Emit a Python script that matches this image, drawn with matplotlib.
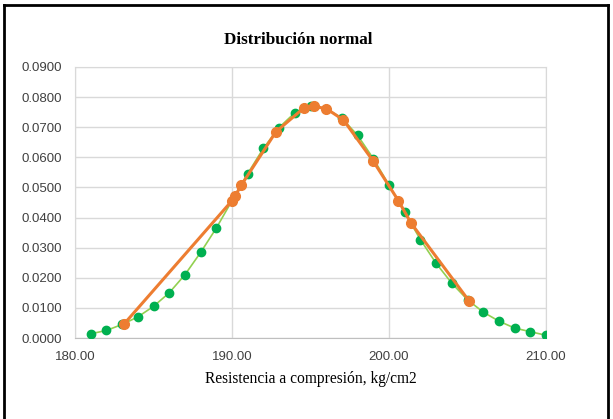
import matplotlib
matplotlib.use("Agg")
import matplotlib.pyplot as plt
from matplotlib.lines import Line2D
from matplotlib.ticker import FormatStrFormatter, MultipleLocator

# Theoretical normal curve (green)
curve_x = [181, 182, 183, 184, 185, 186, 187, 188, 189, 190,
           191, 192, 193, 194, 195, 196, 197, 198, 199, 200,
           201, 202, 203, 204, 205, 206, 207, 208, 209, 210]
curve_y = [0.0014, 0.0025, 0.0045, 0.0070, 0.0105, 0.0150, 0.0210, 0.0284, 0.0365, 0.0456,
           0.0546, 0.0630, 0.0699, 0.0748, 0.0770, 0.0762, 0.0730, 0.0673, 0.0596, 0.0508,
           0.0417, 0.0327, 0.0248, 0.0182, 0.0127, 0.0086, 0.0056, 0.0033, 0.0021, 0.0009]

# Sample strengths (orange)
sample_x = [183.1, 190.0, 190.2, 190.6, 192.8, 194.6, 195.2, 196.0, 197.1, 199.0,
            200.6, 201.4, 205.1]
sample_y = [0.0045, 0.0456, 0.0472, 0.0508, 0.0685, 0.0765, 0.0769, 0.0762, 0.0724, 0.0587,
            0.0456, 0.0382, 0.0123]

x_ticks = [180, 190, 200, 210]

fig = plt.figure(figsize=(6.13, 4.19), dpi=100)
ax = fig.add_axes([75 / 613, 1 - 338 / 419, (546 - 75) / 613, (338 - 67) / 419])

ax.plot(curve_x, curve_y, color="#92d050", lw=1.2, zorder=3)
ax.plot(curve_x, curve_y, ls="none", marker="o", ms=6, color="#00b050", zorder=4)
ax.plot(sample_x, sample_y, color="#ed7d31", lw=2.2, marker="o", ms=7,
        markerfacecolor="#ed7d31", markeredgecolor="#ed7d31", zorder=5)

ax.set_xlim(180, 210)
ax.set_ylim(0, 0.09)
ax.set_xticks(x_ticks)
ax.yaxis.set_major_locator(MultipleLocator(0.01))
ax.xaxis.set_major_formatter(FormatStrFormatter("%.2f"))
ax.yaxis.set_major_formatter(FormatStrFormatter("%.4f"))

ax.grid(True, color="#d9d9d9", lw=1)
ax.set_axisbelow(True)
for side in ("top", "right", "left"):
    ax.spines[side].set_color("#d9d9d9")
ax.spines["bottom"].set_color("#bfbfbf")
ax.tick_params(length=0, labelsize=9.5, colors="#404040")
ax.tick_params(axis="y", pad=9)
ax.tick_params(axis="x", pad=9)
for lbl in ax.get_xticklabels() + ax.get_yticklabels():
    lbl.set_fontfamily("Liberation Sans")

fig.text(298 / 613, 1 - 40 / 419, "Distribución normal", ha="center", va="center",
         fontsize=12.3, fontweight="bold", family="Liberation Serif", color="#000000")
fig.text(311 / 613, 1 - 379 / 419, "Resistencia a compresión, kg/cm2", ha="center",
         va="center", fontsize=11.2, family="Liberation Serif", color="#000000")

# Chart frame
for xs, ys in (([4 / 613, 4 / 613], [0, 1 - 5 / 419]),
               ([4 / 613, 608 / 613], [1 - 5 / 419, 1 - 5 / 419]),
               ([608 / 613, 608 / 613], [0, 1 - 5 / 419])):
    fig.add_artist(Line2D(xs, ys, color="black", lw=2))

fig.savefig("out.png", dpi=100)
